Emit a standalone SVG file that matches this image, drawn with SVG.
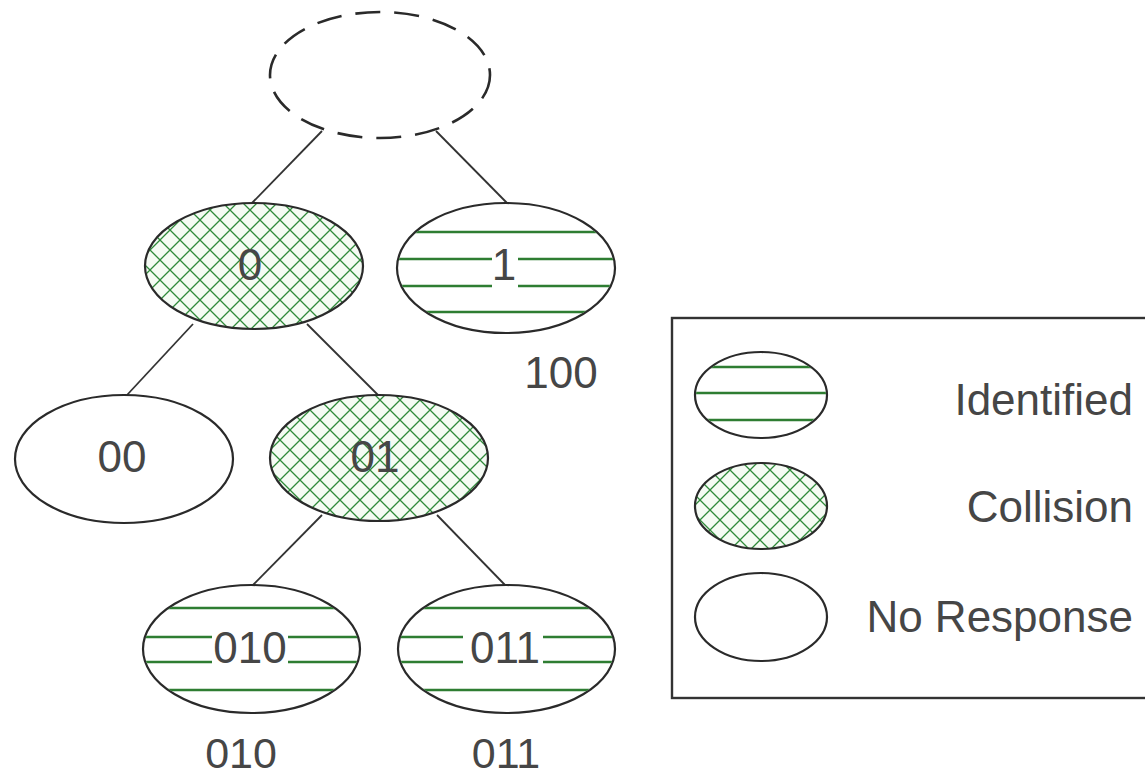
<svg xmlns="http://www.w3.org/2000/svg" width="1145" height="776" viewBox="0 0 1145 776">
<style>
.el{stroke:#2a2a2a;stroke-width:2.2;fill:#fff}
.hatch{stroke:#2a2a2a;stroke-width:2.2;fill:url(#cross)}
.gl{stroke:#2e7d32;stroke-width:2.6}
.t{font-family:"Liberation Sans",Arial,sans-serif;font-size:44px;fill:#464646;text-anchor:middle}
.lab{font-size:43px}
.lt{font-family:"Liberation Sans",Arial,sans-serif;font-size:44px;fill:#464646;text-anchor:end}
.conn line{stroke:#333;stroke-width:1.8}
</style>
<defs>
<pattern id="cross" patternUnits="userSpaceOnUse" width="20" height="20">
<rect width="20" height="20" fill="#f5fbf4"/>
<path d="M0 0L20 20M0 20L20 0M-1 1L1 -1M19 21L21 19M-1 19L1 21M19 -1L21 1" stroke="#2f8a3a" stroke-width="1.3"/>
</pattern>
<clipPath id="c1"><ellipse cx="506" cy="268" rx="108" ry="64"/></clipPath>
<clipPath id="c010"><ellipse cx="251.5" cy="649" rx="107.5" ry="63"/></clipPath>
<clipPath id="c011"><ellipse cx="506.5" cy="649" rx="107.5" ry="63"/></clipPath>
<clipPath id="cl1"><ellipse cx="761" cy="395" rx="65" ry="42"/></clipPath>
</defs>
<rect width="1145" height="776" fill="#fff"/>
<g class="conn" id="connectors">
<line x1="322" y1="131" x2="252" y2="203"/>
<line x1="436" y1="131" x2="507" y2="203"/>
<line x1="193" y1="324" x2="127" y2="395"/>
<line x1="307" y1="324" x2="378" y2="395"/>
<line x1="322" y1="515" x2="253" y2="585"/>
<line x1="437" y1="515" x2="505" y2="585"/>
</g>
<g id="root">
<ellipse cx="380" cy="75" rx="110" ry="63" fill="#fff" stroke="#2a2a2a" stroke-width="2.6" stroke-dasharray="25 14"/>
</g>
<g id="n0">
<ellipse class="hatch" cx="254" cy="266" rx="109" ry="63"/>
<text class="t" x="250" y="280">0</text>
</g>
<g id="n1">
<ellipse class="el" cx="506" cy="268" rx="109" ry="65"/>
<g clip-path="url(#c1)" class="gl">
<line x1="390" y1="232" x2="625" y2="232"/>
<line x1="390" y1="259" x2="625" y2="259"/>
<line x1="390" y1="286" x2="625" y2="286"/>
<line x1="390" y1="312" x2="625" y2="312"/>
</g>
<rect x="492" y="248" width="26" height="44" fill="#fff"/>
<text class="t" x="504" y="280">1</text>
</g>
<g id="n00">
<ellipse class="el" cx="124" cy="459" rx="109" ry="64"/>
<text class="t" x="122" y="472">00</text>
</g>
<g id="n01">
<ellipse class="hatch" cx="379" cy="458" rx="109" ry="63"/>
<text class="t" x="375" y="472">01</text>
</g>
<g id="n010">
<ellipse class="el" cx="251.5" cy="649" rx="108.5" ry="64"/>
<g clip-path="url(#c010)" class="gl">
<line x1="140" y1="608" x2="365" y2="608"/>
<line x1="140" y1="637" x2="365" y2="637"/>
<line x1="140" y1="662" x2="365" y2="662"/>
<line x1="140" y1="690" x2="365" y2="690"/>
</g>
<rect x="212" y="627" width="76" height="44" fill="#fff"/>
<text class="t" x="250" y="663">010</text>
</g>
<g id="n011">
<ellipse class="el" cx="506.5" cy="649" rx="108.5" ry="64"/>
<g clip-path="url(#c011)" class="gl">
<line x1="395" y1="608" x2="620" y2="608"/>
<line x1="395" y1="637" x2="620" y2="637"/>
<line x1="395" y1="662" x2="620" y2="662"/>
<line x1="395" y1="690" x2="620" y2="690"/>
</g>
<rect x="463" y="627" width="80" height="44" fill="#fff"/>
<text class="t" x="505" y="663">011</text>
</g>
<g id="labels">
<text class="t" x="561" y="388">100</text>
<text class="t lab" x="241" y="768">010</text>
<text class="t lab" x="506" y="768">011</text>
</g>
<g id="legend">
<rect x="672" y="318" width="490" height="380" fill="none" stroke="#333" stroke-width="2.4"/>
<ellipse class="el" cx="761" cy="395" rx="66" ry="43"/>
<g clip-path="url(#cl1)" class="gl">
<line x1="690" y1="367" x2="832" y2="367"/>
<line x1="690" y1="393" x2="832" y2="393"/>
<line x1="690" y1="420" x2="832" y2="420"/>
</g>
<ellipse class="hatch" cx="761" cy="506" rx="66" ry="43"/>
<ellipse class="el" cx="761" cy="617" rx="66" ry="44"/>
<text class="lt" x="1133" y="415">Identified</text>
<text class="lt" x="1133" y="522">Collision</text>
<text class="lt" x="1133" y="632">No Response</text>
</g>
</svg>
